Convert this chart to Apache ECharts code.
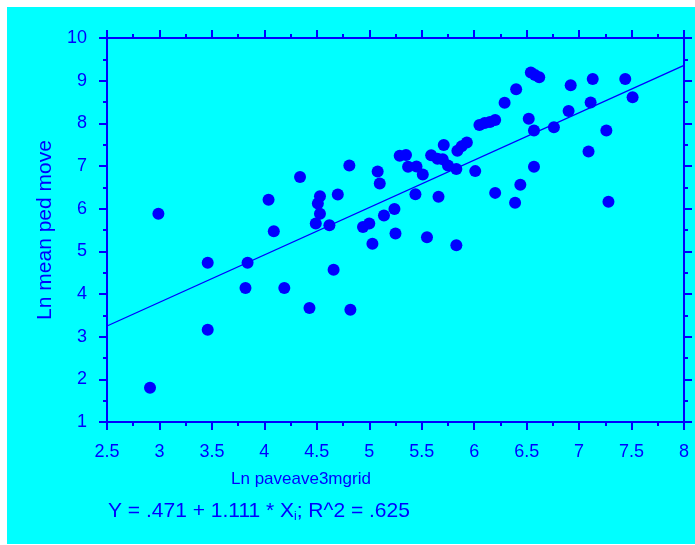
<!DOCTYPE html>
<html>
<head>
<meta charset="utf-8">
<script src="https://cdn.jsdelivr.net/npm/echarts@6/dist/echarts.min.js"></script>
<style>
  html, body { margin: 0; padding: 0; background: #ffffff; }
  #chart { position: absolute; left: 7px; top: 7px; width: 688px; height: 537px; }
</style>
</head>
<body>
<div id="chart"></div>
<script>
// scatter points [Ln paveave3mgrid, Ln mean ped move]
const points = [
  [2.91, 1.80], [2.99, 5.88], [3.46, 4.73], [3.46, 3.16], [3.84, 4.73],
  [3.82, 4.14], [4.04, 6.21], [4.09, 5.47], [4.19, 4.14], [4.34, 6.74],
  [4.43, 3.67], [4.49, 5.65], [4.53, 5.88], [4.51, 6.12], [4.53, 6.29],
  [4.62, 5.61], [4.66, 4.57], [4.70, 6.33], [4.81, 7.01], [4.82, 3.63],
  [4.94, 5.57], [5.00, 5.65], [5.03, 5.18], [5.08, 6.87], [5.10, 6.59],
  [5.14, 5.84], [5.24, 5.99], [5.25, 5.42], [5.29, 7.24], [5.35, 7.26],
  [5.37, 6.98], [5.45, 6.99], [5.51, 6.80], [5.44, 6.34], [5.55, 5.33],
  [5.59, 7.25], [5.65, 7.17], [5.70, 7.16], [5.71, 7.49], [5.75, 7.01],
  [5.83, 6.93], [5.66, 6.28], [5.83, 5.14], [5.84, 7.36], [5.88, 7.46],
  [5.93, 7.55], [6.01, 6.88], [6.05, 7.96], [6.10, 8.01], [6.15, 8.03],
  [6.20, 8.08], [6.20, 6.37], [6.29, 8.48], [6.39, 6.14], [6.40, 8.80],
  [6.44, 6.56], [6.52, 8.11], [6.54, 9.19], [6.58, 9.13], [6.62, 9.08],
  [6.57, 7.83], [6.57, 6.98], [6.76, 7.91], [6.90, 8.29], [6.92, 8.89],
  [7.09, 7.34], [7.11, 8.49], [7.13, 9.04], [7.26, 7.83], [7.28, 6.16],
  [7.44, 9.04], [7.51, 8.61]
];

// regression line ends, Y = .471 + 1.111 * X
const fitLine = [[2.5, 3.25], [8, 9.36]];

const xTicks = [2.5, 3, 3.5, 4, 4.5, 5, 5.5, 6, 6.5, 7, 7.5, 8];
const yTicks = [1, 2, 3, 4, 5, 6, 7, 8, 9, 10];

const blue = '#0000ff';
const font = 'Liberation Sans, Arial, sans-serif';

const chart = echarts.init(document.getElementById('chart'));

// common axis style, ticks point outward
const axisCommon = {
  axisLine: { show: true, lineStyle: { color: blue, width: 2 } },
  axisTick: { show: true, inside: false, length: 8, lineStyle: { color: blue, width: 2 } },
  minorTick: { show: true, splitNumber: 2, length: 4, lineStyle: { color: blue, width: 2 } },
  splitLine: { show: false },
  minorSplitLine: { show: false }
};

const option = {
  backgroundColor: '#00ffff',
  animation: false,
  grid: { left: 100, top: 31, width: 577, height: 384 },
  xAxis: [
    Object.assign({
      type: 'value', position: 'bottom',
      min: xTicks[0], max: xTicks[xTicks.length - 1], interval: 0.5,
      axisLabel: { color: blue, fontFamily: font, fontSize: 18, margin: 21 }
    }, axisCommon),
    Object.assign({
      type: 'value', position: 'top',
      min: xTicks[0], max: xTicks[xTicks.length - 1], interval: 0.5,
      axisLabel: { show: false }
    }, axisCommon)
  ],
  yAxis: [
    Object.assign({
      type: 'value', position: 'left',
      min: yTicks[0], max: yTicks[yTicks.length - 1], interval: 1,
      name: 'Ln mean ped move', nameLocation: 'middle', nameGap: 50,
      nameTextStyle: { color: blue, fontFamily: font, fontSize: 21 },
      axisLabel: { color: blue, fontFamily: font, fontSize: 18, margin: 20 }
    }, axisCommon),
    Object.assign({
      type: 'value', position: 'right',
      min: yTicks[0], max: yTicks[yTicks.length - 1], interval: 1,
      axisLabel: { show: false }
    }, axisCommon)
  ],
  graphic: [
    {
      type: 'text', left: 224, top: 464,
      style: { text: 'Ln paveave3mgrid', fill: blue, font: '17px ' + font }
    },
    {
      type: 'text', left: 101, top: 494,
      style: {
        text: '{n|Y = .471 + 1.111 * X}{s|i}{n|; R^2 = .625}',
        rich: {
          n: { fill: blue, fontFamily: font, fontSize: 21 },
          s: { fill: blue, fontFamily: font, fontSize: 12, padding: [10, 0, 0, 0] }
        }
      }
    }
  ],
  series: [
    {
      type: 'line',
      data: fitLine,
      symbol: 'none',
      lineStyle: { color: blue, width: 1.3 },
      z: 1
    },
    {
      type: 'scatter',
      data: points,
      symbol: 'circle',
      symbolSize: 12,
      itemStyle: { color: blue, opacity: 1 },
      z: 2
    }
  ]
};

chart.setOption(option);
</script>
</body>
</html>
